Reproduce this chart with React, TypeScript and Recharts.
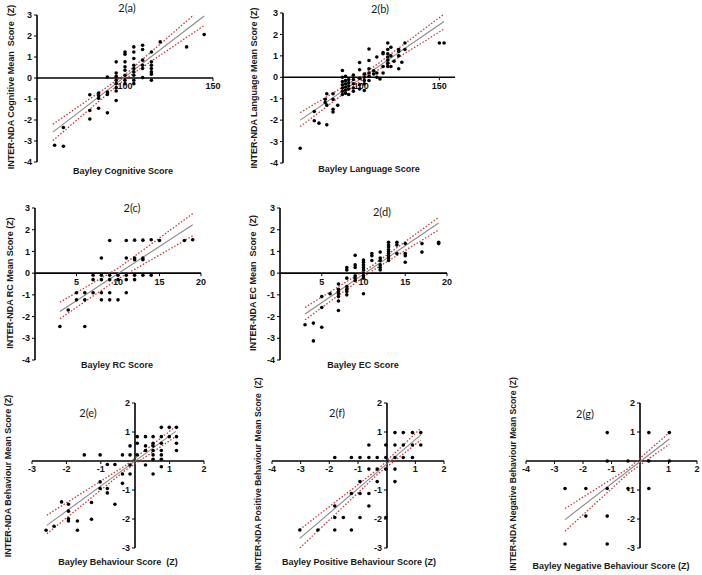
import React from 'react';
import { ScatterChart, Scatter, XAxis, YAxis } from 'recharts';

type P = [number, number];

// 2(a) cognitive
const cogPoints: P[] = [
  [60, -3.2], [65, -3.25], [65, -2.36],
  [80, -0.8], [80, -1.55], [80, -1.95],
  [85, -0.72], [85, -0.83], [85, -0.96], [85, -1.44],
  [90, 0.05], [90, -0.67], [90, -0.78], [90, -1.66],
  [95, 0.77], [95, 0.24], [95, 0.08], [95, -0.11], [95, -0.27], [95, -0.46], [95, -0.62], [95, -1.07],
  [100, 1.24], [100, 1.13], [100, 0.77], [100, 0.53], [100, 0.37], [100, 0.13], [100, -0.11], [100, -0.27],
  [105, 1.48], [105, 1.24], [105, 0.93], [105, 0.61], [105, 0.45], [105, 0.29], [105, 0.13], [105, -0.11], [105, -0.27],
  [110, 1.56], [110, 1.36], [110, 0.85], [110, 0.61], [110, 0.45], [110, 0.02],
  [115, 1.24], [115, 0.77], [115, 0.61], [115, 0.45], [115, 0.29], [115, 0.18], [115, -0.11],
  [120, 1.72], [135, 1.48], [145, 2.07],
];
const cogFit: P[] = [[59, -2.58], [145, 2.95]];
const cogUpper: P[] = [[59, -2.2], [100, 0.16], [139, 3.0]];
const cogLower: P[] = [[59, -2.98], [100, -0.05], [145, 2.5]];

// 2(b) language
const langPoints: P[] = [
  [61, -3.31], [70, -1.6], [70, -2.03], [73, -2.14], [77, -1.03], [77, -1.18],
  [78, -0.77], [78, -1.3], [78, -2.22], [82, -0.77], [82, -1.03], [82, -1.49], [82, -1.62], [85, -1.31],
  [88, 0.32], [88, 0], [88, -0.2], [88, -0.35], [88, -0.5], [88, -0.65], [88, -0.8],
  [90, 0.05], [90, -0.15], [90, -0.3], [90, -0.45], [90, -0.6], [90, -0.75],
  [92, -0.1], [92, -0.25], [92, -0.4], [92, -0.55], [92, -0.8],
  [95, 0.1], [95, -0.1], [95, -0.3], [95, -0.5], [95, -0.65],
  [99, 0.69], [99, 0.35], [99, -0.05], [99, -0.35], [99, -0.55],
  [102, 0.15], [102, 0], [102, -0.15], [102, -0.3], [102, -0.62],
  [105, 1.32], [105, 0.78], [105, 0.4], [105, 0.2], [105, 0.05], [105, -0.15],
  [108, 0.15], [108, 0.3], [110, 0.95], [110, 0.2], [110, 0], [112, -0.08],
  [114, 1.15], [114, 1.1], [114, 0.5], [114, 0.2],
  [117, 1.6], [117, 1.3], [117, 1.1], [117, 0.95], [117, 0.8], [117, 0.65], [117, 0.5],
  [119, 1.4], [119, 1.0], [119, 0.5], [121, 0.75],
  [124, 1.3], [124, 1.2], [124, 1.0], [124, 0.4], [126, 0.7], [128, 1.6], [128, 1.3],
  [150, 1.6], [153, 1.6],
];
const langFit: P[] = [[61, -2.0], [153, 2.6]];
const langUpper: P[] = [[61, -1.65], [100, 0.05], [153, 2.95]];
const langLower: P[] = [[61, -2.3], [100, -0.15], [153, 2.25]];

// 2(c) RC
const rcPoints: P[] = [
  [3, -2.46], [4, -1.7], [5, -0.9], [5, -1.23], [6, -0.9], [6, -1.23], [6, -2.46],
  [7, -0.1], [7, -0.3], [7, -0.9],
  [8, 0.7], [8, -0.1], [8, -0.3], [8, -0.9], [8, -1.23],
  [9, 1.5], [9, -0.1], [9, -0.3], [9, -0.9], [9, -1.23],
  [10, -0.1], [10, -0.3], [10, -1.23],
  [11, 1.5], [11, 0.7], [11, -0.1], [11, -0.3], [11, -0.9],
  [12, 1.52], [12, 0.7], [12, 0.62], [12, -0.1], [12, -0.3],
  [13, 1.52], [13, 0.7], [13, 0.62], [13, -0.1],
  [14, 1.54], [14, -0.1], [15, 1.5], [18, 1.5], [19, 1.54],
];
const rcFit: P[] = [[3, -1.77], [19, 2.23]];
const rcUpper: P[] = [[3, -1.34], [10, 0.22], [19, 2.74]];
const rcLower: P[] = [[3, -2.1], [10, -0.27], [19, 1.72]];

// 2(d) EC
const ecPoints: P[] = [
  [3, -2.38], [4, -2.3], [4, -3.12], [5, -1.08], [5, -1.58], [5, -2.49], [6, -0.95],
  [7, -0.5], [7, -0.74], [7, -0.85], [7, -0.95], [7, -1.08], [7, -1.28], [7, -1.72],
  [8, 0.26], [8, 0.15], [8, -0.23], [8, -0.62], [8, -0.74], [8, -0.85], [8, -1.0],
  [9, 0.82], [9, 0.38], [9, 0.26], [9, -0.12], [9, -0.23], [9, -0.34],
  [10, 0.6], [10, 0.5], [10, 0.38], [10, 0.26], [10, 0.15], [10, 0], [10, -0.12], [10, -0.23], [10, -0.95],
  [11, 0.9], [11, 0.8], [11, 0.58],
  [12, 0.97], [12, 0.7], [12, 0.58], [12, 0.38], [12, 0.26], [12, 0.15],
  [13, 1.42], [13, 1.3], [13, 1.2], [13, 1.08], [13, 1.0], [13, 0.9], [13, 0.8], [13, 0.7], [13, 0.58],
  [14, 1.42], [14, 1.3], [14, 0.9],
  [15, 1.36], [15, 0.9], [15, 0.8], [15, 0.5],
  [17, 1.36], [17, 0.97], [19, 1.42], [19, 1.36],
];
const ecFit: P[] = [[3, -1.88], [19, 2.31]];
const ecUpper: P[] = [[3, -1.58], [11, 0.33], [19, 2.57]];
const ecLower: P[] = [[3, -2.15], [11, 0.1], [19, 1.99]];

// 2(e) behaviour
const behPoints: P[] = [
  [-2.59, -2.39], [-2.36, -2.25], [-2.14, -1.41], [-1.94, -1.49], [-1.94, -1.73], [-1.94, -1.99], [-1.94, -2.07],
  [-1.68, -2.07], [-1.68, -2.39], [-1.48, 0.21], [-1.27, -1.43], [-1.27, -2.01],
  [-1.02, 0.21], [-1.02, -0.72], [-1.02, -0.95], [-0.81, -0.12], [-0.81, -0.95], [-0.81, -1.1],
  [-0.59, -0.12], [-0.59, -1.49], [-0.37, 0.21], [-0.37, -0.45], [-0.37, -0.77],
  [-0.15, 0.52], [-0.15, 0.21], [-0.15, -0.14], [-0.15, -0.45],
  [0.06, 0.84], [0.06, 0.61], [0.06, 0.21],
  [0.3, 0.84], [0.3, 0.52], [0.3, 0.36], [0.3, -0.14],
  [0.52, 0.84], [0.52, 0.61], [0.52, 0.52], [0.52, 0.36], [0.52, 0.21], [0.52, 0.06], [0.52, -0.45],
  [0.76, 1.16], [0.76, 0.84], [0.76, 0.61], [0.76, 0.36], [0.76, 0.21], [0.76, 0.06], [0.76, -0.2],
  [0.99, 1.16], [0.99, 0.84], [1.2, 1.16], [1.2, 0.84], [1.2, 0.61], [1.2, 0.36],
];
const behFit: P[] = [[-2.57, -2.22], [1.18, 1.02]];
const behUpper: P[] = [[-2.57, -1.87], [-0.3, -0.17], [1.18, 1.19]];
const behLower: P[] = [[-2.57, -2.51], [-0.3, -0.33], [1.18, 0.84]];

// 2(f) positive behaviour
const posPoints: P[] = [
  [-3.03, -2.38], [-2.4, -2.38], [-1.81, 0.12], [-1.81, -1.55], [-1.81, -1.95], [-1.81, -2.38],
  [-1.51, -1.95], [-1.23, 0.12], [-1.23, -1.12], [-1.23, -2.38],
  [-0.93, 0.12], [-0.93, -0.71], [-0.93, -1.12], [-0.93, -1.95],
  [-0.62, 0.55], [-0.62, 0.12], [-0.62, -0.28], [-0.62, -1.12], [-0.62, -1.55],
  [-0.33, 0.12], [-0.33, -0.28], [-0.33, -0.71],
  [-0.03, 0.55], [-0.03, 0.12], [-0.03, -0.28], [-0.03, -1.95],
  [0.29, 0.98], [0.29, 0.55], [0.29, 0.12], [0.29, -0.28], [0.29, -0.71],
  [0.58, 0.98], [0.58, 0.55], [0.58, 0.12], [0.9, 0.98], [0.9, 0.55], [0.9, 0.12],
  [1.19, 0.98], [1.19, 0.55],
];
const posFit: P[] = [[-3.03, -2.67], [1.19, 0.9]];
const posUpper: P[] = [[-3.03, -2.36], [-0.3, -0.28], [1.19, 1.13]];
const posLower: P[] = [[-3.03, -3.0], [-0.3, -0.44], [1.19, 0.72]];

// 2(g) negative behaviour
const negPoints: P[] = [
  [-2.63, -0.95], [-2.63, -2.86], [-1.9, -0.95], [-1.9, -1.9],
  [-1.15, 0.98], [-1.15, 0], [-1.15, -0.95], [-1.15, -1.9], [-1.15, -2.86],
  [-0.42, 0], [-0.42, -0.95], [0.31, 0.98], [0.31, 0], [0.31, -0.95], [1.03, 0.98], [1.03, 0],
];
const negFit: P[] = [[-2.63, -2.02], [1.03, 0.76]];
const negUpper: P[] = [[-2.63, -1.64], [-0.4, -0.25], [1.03, 0.98]];
const negLower: P[] = [[-2.63, -2.42], [-0.4, -0.42], [1.03, 0.58]];

const bigYTicks = [-4, -3, -2, -1, 0, 1, 2, 3];
const zYTicks = [-3, -2, -1, 1, 2];

const FONT = '"Liberation Sans", Arial, sans-serif';
const RED = '#c8383a';
const GREY = '#8a8a8a';

const toXY = (arr: P[]) => arr.map(([x, y]) => ({ x, y }));
const Dot = (props: any) => <circle cx={props.cx} cy={props.cy} r={1.8} fill="#000" />;
const Blank = () => <g />;

interface PanelProps {
  left: number; top: number; w: number; h: number;
  xDomain: [number, number]; yDomain: [number, number];
  xTicks: number[]; yTicks: number[]; yAxisAt: number;
  points: P[]; fit: P[]; upper: P[]; lower: P[];
}

const tickStyle = { fontSize: 9, fill: '#111', fontFamily: FONT, fontWeight: 'bold' as const };

function Panel(p: PanelProps) {
  const pad = 6;
  const side = 16;
  const AW = 30;
  const [x0, x1] = p.xDomain;
  const [y0, y1] = p.yDomain;
  const zeroY = (p.h * y1) / (y1 - y0);
  const axisX = (p.w * (p.yAxisAt - x0)) / (x1 - x0);
  return (
    <>
      <div style={{ position: 'absolute', left: p.left - side, top: p.top - pad }}>
        <ScatterChart width={p.w + 2 * side} height={pad + zeroY + 22} margin={{ top: pad, right: side, bottom: 0, left: side }}>
          <XAxis type="number" dataKey="x" domain={p.xDomain} ticks={p.xTicks} interval={0} height={22}
            allowDataOverflow axisLine={{ stroke: '#000', strokeWidth: 1.6 }} tickLine={{ stroke: '#000' }}
            tickSize={3} tick={tickStyle} />
          <YAxis type="number" dataKey="y" domain={[0, 1]} hide width={0} />
          <Scatter data={[]} isAnimationActive={false} />
        </ScatterChart>
      </div>
      <div style={{ position: 'absolute', left: p.left + axisX - AW, top: p.top - pad }}>
        <ScatterChart width={AW + 6} height={p.h + 2 * pad} margin={{ top: pad, right: 4, bottom: pad, left: 0 }}>
          <XAxis type="number" dataKey="x" domain={[0, 1]} hide height={0} />
          <YAxis type="number" dataKey="y" domain={p.yDomain} ticks={p.yTicks} interval={0} width={AW}
            allowDataOverflow axisLine={{ stroke: '#000', strokeWidth: 1.6 }} tickLine={{ stroke: '#000' }}
            tickSize={3} tick={tickStyle} />
          <Scatter data={[]} isAnimationActive={false} />
        </ScatterChart>
      </div>
      <div style={{ position: 'absolute', left: p.left - pad, top: p.top - pad }}>
        <ScatterChart width={p.w + 2 * pad} height={p.h + 2 * pad} margin={{ top: pad, right: pad, bottom: pad, left: pad }}>
          <XAxis type="number" dataKey="x" domain={p.xDomain} hide height={0} allowDataOverflow />
          <YAxis type="number" dataKey="y" domain={p.yDomain} hide width={0} allowDataOverflow />
          <Scatter data={toXY(p.upper)} shape={Blank} line={{ stroke: RED, strokeWidth: 1.3, strokeDasharray: '1.5 1.8' }} isAnimationActive={false} />
          <Scatter data={toXY(p.lower)} shape={Blank} line={{ stroke: RED, strokeWidth: 1.3, strokeDasharray: '1.5 1.8' }} isAnimationActive={false} />
          <Scatter data={toXY(p.fit)} shape={Blank} line={{ stroke: GREY, strokeWidth: 1.1 }} isAnimationActive={false} />
          <Scatter data={toXY(p.points)} shape={Dot} isAnimationActive={false} />
        </ScatterChart>
      </div>
    </>
  );
}

function Txt({ x, y, text, rotate, size = 9, bold = true, family = FONT }: { x: number; y: number; text: string; rotate?: boolean; size?: number; bold?: boolean; family?: string }) {
  return (
    <div style={{
      position: 'absolute', left: x, top: y, whiteSpace: 'pre', fontFamily: family, fontSize: size,
      fontWeight: bold ? 'bold' : 'normal', color: '#1a1a1a', lineHeight: 1,
      transform: `translate(-50%, -50%)${rotate ? ' rotate(-90deg)' : ''}`,
    }}>{text}</div>
  );
}

export default function App() {
  const TF = 'Lato, "Open Sans", sans-serif';
  return (
    <div style={{ position: 'absolute', left: 0, top: 0, width: 702, height: 575, background: '#fff', overflow: 'hidden' }}>
      <Panel left={37} top={15} w={176} h={147} xDomain={[50, 150]} yDomain={[-4, 3]} xTicks={[100, 150]} yTicks={bigYTicks} yAxisAt={50}
        points={cogPoints} fit={cogFit} upper={cogUpper} lower={cogLower} />
      <Panel left={283} top={13} w={172} h={150} xDomain={[50, 160]} yDomain={[-4, 3]} xTicks={[100, 150]} yTicks={bigYTicks} yAxisAt={50}
        points={langPoints} fit={langFit} upper={langUpper} lower={langLower} />
      <Panel left={35} top={208} w={166} h={152} xDomain={[0, 20]} yDomain={[-4, 3]} xTicks={[5, 10, 15, 20]} yTicks={bigYTicks} yAxisAt={0}
        points={rcPoints} fit={rcFit} upper={rcUpper} lower={rcLower} />
      <Panel left={280} top={208} w={167} h={152} xDomain={[0, 20]} yDomain={[-4, 3]} xTicks={[5, 10, 15, 20]} yTicks={bigYTicks} yAxisAt={0}
        points={ecPoints} fit={ecFit} upper={ecUpper} lower={ecLower} />
      <Panel left={32} top={403} w={172} h={145} xDomain={[-3, 2]} yDomain={[-3, 2]} xTicks={[-3, -2, -1, 1, 2]} yTicks={zYTicks} yAxisAt={0}
        points={behPoints} fit={behFit} upper={behUpper} lower={behLower} />
      <Panel left={272} top={403} w={172} h={145} xDomain={[-4, 2]} yDomain={[-3, 2]} xTicks={[-4, -3, -2, -1, 1, 2]} yTicks={zYTicks} yAxisAt={0}
        points={posPoints} fit={posFit} upper={posUpper} lower={posLower} />
      <Panel left={526} top={403} w={171} h={145} xDomain={[-4, 2]} yDomain={[-3, 2]} xTicks={[-4, -3, -2, -1, 1, 2]} yTicks={zYTicks} yAxisAt={0}
        points={negPoints} fit={negFit} upper={negUpper} lower={negLower} />

      <Txt x={127} y={7} text="2(a)" size={11} bold={false} family={TF} />
      <Txt x={380} y={8} text="2(b)" size={11} bold={false} family={TF} />
      <Txt x={132} y={207} text="2(c)" size={11} bold={false} family={TF} />
      <Txt x={382} y={211} text="2(d)" size={11} bold={false} family={TF} />
      <Txt x={88} y={412} text="2(e)" size={11} bold={false} family={TF} />
      <Txt x={337} y={412} text="2(f)" size={11} bold={false} family={TF} />
      <Txt x={585} y={413} text="2(g)" size={11} bold={false} family={TF} />

      <Txt x={123} y={171} text="Bayley Cognitive Score" />
      <Txt x={369} y={169} text="Bayley Language Score" />
      <Txt x={117} y={365} text="Bayley RC Score" />
      <Txt x={363} y={365} text="Bayley EC Score" />
      <Txt x={118} y={562} text="Bayley Behaviour Score  (Z)" />
      <Txt x={359} y={562} text="Bayley Positive Behaviour Score (Z)" />
      <Txt x={611} y={566} text="Bayley Negative Behaviour Score (Z)" />

      <Txt x={11} y={87} rotate text="INTER-NDA Cognitive Mean  Score  (Z)" />
      <Txt x={254} y={88} rotate text="INTER-NDA Language Mean Score (Z)" />
      <Txt x={10} y={283} rotate text="INTER-NDA RC Mean Score (Z)" />
      <Txt x={253} y={283} rotate text="INTER-NDA EC Mean  Score  (Z)" />
      <Txt x={8} y={476} rotate text="INTER-NDA Behaviour Mean Score (Z)" />
      <Txt x={258} y={474} rotate size={8.6} text="INTER-NDA Positive Behaviour Mean Score  (Z)" />
      <Txt x={513} y={474} rotate size={8.6} text="INTER-NDA Negative Behaviour Mean Score (Z)" />
    </div>
  );
}
